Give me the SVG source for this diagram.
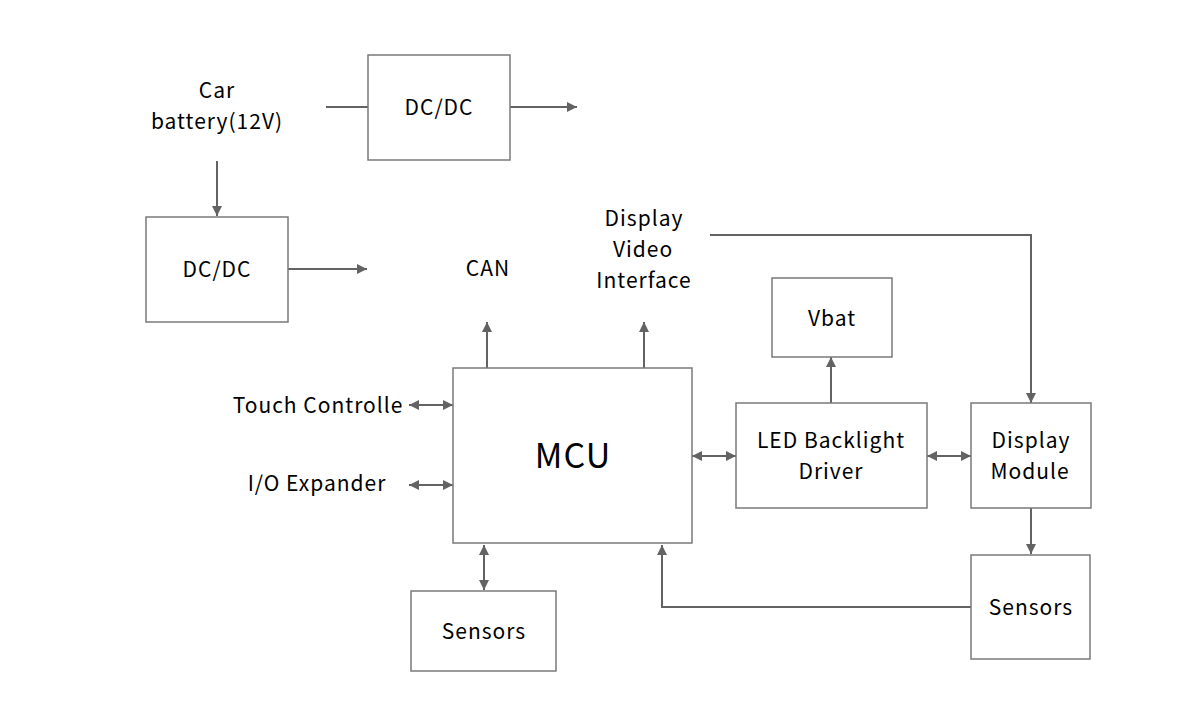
<svg xmlns="http://www.w3.org/2000/svg" width="1200" height="727" viewBox="0 0 1200 727">
<style>
.box{fill:#fff;stroke:#7a7a7a;stroke-width:1.5}
.ln{fill:none;stroke:#636363;stroke-width:2}
text{font-family:"Noto Sans CJK SC","Noto Sans",sans-serif;font-size:21px;letter-spacing:1px;fill:#000;text-anchor:middle;dominant-baseline:central}
</style>
<defs>
<marker id="ah" viewBox="0 0 10 10" refX="10" refY="5" markerWidth="10" markerHeight="10" markerUnits="userSpaceOnUse" orient="auto-start-reverse">
<path d="M0,0 L10,5 L0,10 z" fill="#636363"/>
</marker>
</defs>
<rect width="1200" height="727" fill="#fff"/>
<g id="connectors">
<line class="ln" x1="326" y1="107" x2="368" y2="107"/>
<line class="ln" x1="510" y1="107" x2="577" y2="107" marker-end="url(#ah)"/>
<line class="ln" x1="217" y1="161" x2="217" y2="216" marker-end="url(#ah)"/>
<line class="ln" x1="288" y1="269" x2="367" y2="269" marker-end="url(#ah)"/>
<line class="ln" x1="487" y1="368" x2="487" y2="322" marker-end="url(#ah)"/>
<line class="ln" x1="644" y1="368" x2="644" y2="322" marker-end="url(#ah)"/>
<line class="ln" x1="409" y1="405" x2="453" y2="405" marker-start="url(#ah)" marker-end="url(#ah)"/>
<line class="ln" x1="409" y1="485" x2="453" y2="485" marker-start="url(#ah)" marker-end="url(#ah)"/>
<line class="ln" x1="484" y1="545" x2="484" y2="590" marker-start="url(#ah)" marker-end="url(#ah)"/>
<polyline class="ln" points="971,607 662,607 662,545" marker-end="url(#ah)"/>
<line class="ln" x1="692" y1="456" x2="736" y2="456" marker-start="url(#ah)" marker-end="url(#ah)"/>
<line class="ln" x1="831" y1="403" x2="831" y2="357" marker-end="url(#ah)"/>
<line class="ln" x1="927" y1="456" x2="971" y2="456" marker-start="url(#ah)" marker-end="url(#ah)"/>
<polyline class="ln" points="710,235 1031,235 1031,403" marker-end="url(#ah)"/>
<line class="ln" x1="1031" y1="508" x2="1031" y2="554" marker-end="url(#ah)"/>
</g>
<g id="car-battery"><text x="217" y="89">Car</text><text x="217" y="120">battery(12V)</text></g>
<g id="dcdc-top"><rect class="box" x="368" y="55" width="142" height="105"/><text x="439" y="106">DC/DC</text></g>
<g id="dcdc-left"><rect class="box" x="146" y="217" width="142" height="105"/><text x="217" y="268">DC/DC</text></g>
<g id="can"><text x="488" y="267">CAN</text></g>
<g id="dvi"><text x="644" y="217">Display</text><text x="643" y="248">Video</text><text x="644" y="279">Interface</text></g>
<g id="mcu"><rect class="box" x="453" y="368" width="239" height="175"/><text x="573" y="453" style="font-size:34px">MCU</text></g>
<g id="touch"><text x="318" y="404">Touch Controlle</text></g>
<g id="io"><text x="317" y="482">I/O Expander</text></g>
<g id="sensors-left"><rect class="box" x="411" y="591" width="145" height="80"/><text x="484" y="630">Sensors</text></g>
<g id="vbat"><rect class="box" x="772" y="278" width="120" height="79"/><text x="832" y="317">Vbat</text></g>
<g id="led"><rect class="box" x="736" y="403" width="191" height="105"/><text x="831" y="439">LED Backlight</text><text x="831" y="470">Driver</text></g>
<g id="display-module"><rect class="box" x="971" y="403" width="120" height="105"/><text x="1031" y="439">Display</text><text x="1030" y="470">Module</text></g>
<g id="sensors-right"><rect class="box" x="971" y="555" width="119" height="104"/><text x="1031" y="606">Sensors</text></g>
</svg>
